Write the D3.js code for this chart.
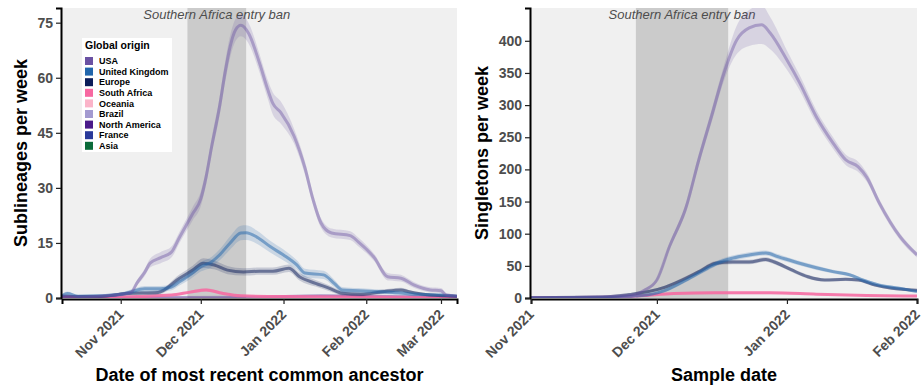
<!DOCTYPE html>
<html>
<head>
<meta charset="utf-8">
<script src="https://cdn.jsdelivr.net/npm/d3@7"></script>
<style>
  body { margin: 0; background: #fff; }
  text { font-family: "Liberation Sans", Arial, sans-serif; }
</style>
</head>
<body>
<div id="chart"></div>
<script>
// legend
const originNames = ['USA', 'United Kingdom', 'Europe', 'South Africa', 'Oceania', 'Brazil', 'North America', 'France', 'Asia']
const originColors = ['#6a51a3', '#2166ac', '#0b1d5a', '#f768a1', '#fbb4c9', '#a39ad0', '#4a1a8a', '#2a3a9a', '#0b6b3a']

const banStart = '2021-11-26'
const banEnd = '2021-12-18'

// sublineages per week by MRCA date: [date, mean, half width of ribbon]
const mrcaUSA = [
  ['2021-10-10', 0.5, 0.5], ['2021-10-17', 0.3, 0.3], ['2021-10-24', 0.5, 0.4], ['2021-11-01', 1.0, 0.5],
  ['2021-11-05', 1.6, 0.6], ['2021-11-07', 4, 0.8], ['2021-11-10', 7, 1], ['2021-11-12', 9.5, 1.2],
  ['2021-11-16', 11, 1.5], ['2021-11-20', 12.5, 1.5], ['2021-11-23', 16.5, 1.5], ['2021-11-28', 23, 1.8],
  ['2021-12-01', 27, 2], ['2021-12-03', 33, 2], ['2021-12-05', 41, 2.2], ['2021-12-08', 52, 2.5],
  ['2021-12-10', 61, 2.8], ['2021-12-12', 68.5, 3], ['2021-12-14', 73, 3], ['2021-12-16', 74.3, 3],
  ['2021-12-19', 72, 2.8], ['2021-12-23', 64, 2.5], ['2021-12-26', 57, 2.5], ['2021-12-28', 53, 3],
  ['2021-12-31', 50.5, 3], ['2022-01-05', 44, 2], ['2022-01-09', 35.5, 1.8], ['2022-01-12', 27, 1.5],
  ['2022-01-15', 20.5, 1.3], ['2022-01-19', 17.7, 1.2], ['2022-01-26', 17, 1.2], ['2022-01-29', 15.3, 1.2],
  ['2022-02-04', 11, 1], ['2022-02-09', 5.8, 1], ['2022-02-14', 5.4, 0.9], ['2022-02-19', 3.5, 0.8],
  ['2022-02-25', 2.2, 0.7], ['2022-03-01', 2, 0.7], ['2022-03-03', 0.8, 0.5], ['2022-03-07', 0.5, 0.4]
]
const mrcaUK = [
  ['2021-10-10', 0.6, 0.5], ['2021-10-12', 1.2, 0.6], ['2021-10-16', 0.5, 0.4], ['2021-10-24', 0.6, 0.4],
  ['2021-11-01', 1.0, 0.5], ['2021-11-04', 1.5, 0.6], ['2021-11-10', 2.5, 0.8], ['2021-11-16', 2.5, 0.8],
  ['2021-11-20', 3, 0.9], ['2021-11-23', 4.4, 1], ['2021-11-27', 6.3, 1.2], ['2021-12-01', 8.5, 1.3],
  ['2021-12-05', 9.8, 1.4], ['2021-12-08', 11.7, 1.5], ['2021-12-12', 15, 1.8], ['2021-12-16', 17.7, 2],
  ['2021-12-18', 17.8, 2], ['2021-12-22', 16.6, 1.8], ['2021-12-27', 14, 1.6], ['2022-01-01', 11.7, 1.5],
  ['2022-01-06', 9, 1.3], ['2022-01-09', 6.8, 1.2], ['2022-01-16', 6.3, 1.1], ['2022-01-20', 4, 1],
  ['2022-01-23', 2.2, 0.8], ['2022-01-29', 2, 0.7], ['2022-02-06', 1.7, 0.6], ['2022-02-13', 1.4, 0.6],
  ['2022-02-19', 1, 0.5], ['2022-03-01', 0.8, 0.4], ['2022-03-07', 0.5, 0.3]
]
const mrcaEurope = [
  ['2021-10-10', 0.5, 0.4], ['2021-10-24', 0.4, 0.3], ['2021-11-03', 1.2, 0.5], ['2021-11-15', 1.5, 0.6],
  ['2021-11-23', 5.4, 1], ['2021-11-28', 7.6, 1.2], ['2021-12-02', 9.5, 1.3], ['2021-12-06', 9, 1.2],
  ['2021-12-11', 7.6, 1.1], ['2021-12-17', 7.1, 1], ['2021-12-23', 7.3, 1], ['2021-12-28', 7.3, 1],
  ['2022-01-03', 8.1, 1], ['2022-01-07', 5.8, 1], ['2022-01-13', 4, 0.9], ['2022-01-18', 2.7, 0.8],
  ['2022-01-23', 1.3, 0.6], ['2022-01-30', 1, 0.5], ['2022-02-07', 1.7, 0.6], ['2022-02-14', 2.2, 0.6],
  ['2022-02-17', 1.7, 0.5], ['2022-02-25', 0.8, 0.4], ['2022-03-07', 0.5, 0.3]
]
const mrcaSouthAfrica = [
  ['2021-10-10', 0.3, 0.2], ['2021-11-01', 0.3, 0.2], ['2021-11-20', 0.8, 0.3], ['2021-11-27', 1.6, 0.4],
  ['2021-12-03', 2.2, 0.5], ['2021-12-09', 1.3, 0.4], ['2021-12-16', 0.6, 0.3], ['2022-01-01', 0.4, 0.2],
  ['2022-03-07', 0.2, 0.2]
]
const mrcaNorthAmerica = [
  ['2021-10-10', 0.1, 0.1], ['2021-12-20', 0.2, 0.1], ['2022-01-15', 0.6, 0.2], ['2022-02-01', 0.5, 0.2],
  ['2022-03-07', 0.2, 0.1]
]

// singletons per week by sample date: [date, mean, half width of ribbon]
const sampleUSA = [
  ['2021-11-01', 0.5, 0.5], ['2021-11-10', 0.8, 0.6], ['2021-11-17', 1.5, 0.8], ['2021-11-22', 3, 1],
  ['2021-11-26', 6, 1.5], ['2021-11-28', 12, 2], ['2021-12-01', 28, 3], ['2021-12-04', 80, 5],
  ['2021-12-08', 142, 7], ['2021-12-11', 215, 9], ['2021-12-14', 282, 10], ['2021-12-17', 350, 12],
  ['2021-12-20', 401, 22], ['2021-12-23', 420, 28], ['2021-12-26', 425, 30], ['2021-12-28', 412, 25],
  ['2022-01-01', 370, 15], ['2022-01-04', 335, 12], ['2022-01-08', 282, 10], ['2022-01-12', 241, 9],
  ['2022-01-15', 215, 8], ['2022-01-18', 204, 8], ['2022-01-20', 188, 7], ['2022-01-23', 148, 6],
  ['2022-01-28', 95, 5], ['2022-02-01', 67, 4]
]
const sampleUK = [
  ['2021-11-01', 0.5, 0.5], ['2021-11-20', 1, 0.8], ['2021-11-26', 3, 1.5], ['2021-11-29', 5, 2],
  ['2021-12-03', 12, 2.5], ['2021-12-08', 28, 3], ['2021-12-13', 46, 3.5], ['2021-12-16', 56, 4],
  ['2021-12-19', 62, 4], ['2021-12-23', 67, 4], ['2021-12-27', 70, 4], ['2021-12-30', 64, 4],
  ['2022-01-04', 54, 3.5], ['2022-01-08', 47, 3.5], ['2022-01-12', 41, 3], ['2022-01-16', 36, 3],
  ['2022-01-19', 28, 3], ['2022-01-23', 20, 2.5], ['2022-01-28', 15, 2.5], ['2022-02-01', 10, 2]
]
const sampleEurope = [
  ['2021-11-01', 0.5, 0.5], ['2021-11-18', 1.5, 0.8], ['2021-11-25', 6, 1.5], ['2021-11-29', 10, 2],
  ['2021-12-03', 17, 2.5], ['2021-12-07', 28, 3], ['2021-12-11', 41, 3], ['2021-12-15', 54, 3.5],
  ['2021-12-19', 56, 3.5], ['2021-12-23', 56, 3.5], ['2021-12-27', 60, 3.5], ['2021-12-29', 56, 3.5],
  ['2022-01-02', 44, 3], ['2022-01-06', 33, 3], ['2022-01-10', 28, 2.5], ['2022-01-15', 29, 2.5],
  ['2022-01-18', 28, 2.5], ['2022-01-22', 20, 2], ['2022-01-26', 15, 2], ['2022-02-01', 12, 2]
]
const sampleSouthAfrica = [
  ['2021-11-01', 0.5, 0.5], ['2021-11-20', 1, 0.8], ['2021-11-28', 4, 1.5], ['2021-12-05', 7, 2],
  ['2021-12-15', 8, 2], ['2021-12-28', 8, 2], ['2022-01-08', 6, 1.5], ['2022-01-20', 4, 1.2],
  ['2022-02-01', 3, 1]
]

const lineOpacity = { 'USA': 0.42, 'United Kingdom': 0.5, 'Europe': 0.5, 'South Africa': 0.85, 'North America': 0.4 }

const parse = d3.timeParse('%Y-%m-%d')
const W = 922, H = 387

const svg = d3.select('#chart').append('svg')
  .attr('width', W)
  .attr('height', H)

function drawPanel(p) {
  const x = d3.scaleTime().domain(p.xDomain.map(parse)).range([p.left, p.right])
  const y = d3.scaleLinear().domain(p.yDomain).range([p.bottom, p.top])
  const g = svg.append('g')

  // panel background
  g.append('rect')
    .attr('x', p.left).attr('y', p.top)
    .attr('width', p.right - p.left).attr('height', p.bottom - p.top)
    .attr('fill', '#f0f0f0')

  // entry ban window
  g.append('rect')
    .attr('x', x(parse(banStart))).attr('y', p.top)
    .attr('width', x(parse(banEnd)) - x(parse(banStart)))
    .attr('height', p.bottom - p.top)
    .attr('fill', '#cbcbcb')

  g.append('text')
    .attr('x', (x(parse(banStart)) + x(parse(banEnd))) / 2)
    .attr('y', p.top + 11)
    .attr('text-anchor', 'middle')
    .attr('font-size', 13)
    .attr('font-style', 'italic')
    .attr('fill', '#4d4d4d')
    .text('Southern Africa entry ban')

  const clip = 'clip' + p.id
  g.append('clipPath').attr('id', clip)
    .append('rect')
    .attr('x', p.left).attr('y', p.top)
    .attr('width', p.right - p.left).attr('height', p.bottom - p.top)

  const area = d3.area()
    .x(d => x(parse(d[0])))
    .y0(d => y(Math.max(0, d[1] - d[2])))
    .y1(d => y(d[1] + d[2]))
    .curve(d3.curveMonotoneX)
  const line = d3.line()
    .x(d => x(parse(d[0])))
    .y(d => y(d[1]))
    .curve(d3.curveMonotoneX)

  const lines = g.append('g').attr('clip-path', 'url(#' + clip + ')')
  p.series.forEach(s => {
    const c = originColors[originNames.indexOf(s.name)]
    lines.append('path')
      .datum(s.data)
      .attr('d', area)
      .attr('fill', c)
      .attr('fill-opacity', 0.18)
    lines.append('path')
      .datum(s.data)
      .attr('d', line)
      .attr('fill', 'none')
      .attr('stroke', c)
      .attr('stroke-opacity', lineOpacity[s.name])
      .attr('stroke-width', 3)
  })

  // y axis
  const yAxis = g.append('g')
    .attr('transform', 'translate(' + (p.left - 1) + ',0)')
    .call(d3.axisLeft(y).tickValues(p.yTicks).tickSize(5).tickPadding(3))
  yAxis.select('.domain').attr('stroke', '#000').attr('stroke-width', 2)
  yAxis.selectAll('.tick line').attr('stroke', '#222').attr('stroke-width', 1.2)
  yAxis.selectAll('.tick text')
    .attr('font-size', 14)
    .attr('font-weight', 'bold')
    .attr('fill', '#4d4d4d')
    .attr('font-family', '"Liberation Sans", Arial, sans-serif')

  // x axis
  const xAxis = g.append('g')
    .attr('transform', 'translate(0,' + (p.bottom + 1) + ')')
    .call(d3.axisBottom(x).tickValues(p.xTicks.map(parse)).tickSize(5).tickFormat(d3.timeFormat('%b %Y')))
  xAxis.select('.domain').attr('stroke', '#000').attr('stroke-width', 2)
  xAxis.selectAll('.tick line').attr('stroke', '#222').attr('stroke-width', 1.2)
  xAxis.selectAll('.tick text')
    .attr('font-size', 14)
    .attr('font-weight', 'bold')
    .attr('fill', '#4d4d4d')
    .attr('font-family', '"Liberation Sans", Arial, sans-serif')
    .attr('text-anchor', 'end')
    .attr('transform', 'translate(-3,10) rotate(-45)')
    .attr('dy', '0.35em')
    .attr('y', 4)

  // titles
  g.append('text')
    .attr('x', (p.left + p.right) / 2)
    .attr('y', 381)
    .attr('text-anchor', 'middle')
    .attr('font-size', 18)
    .attr('font-weight', 'bold')
    .text(p.xTitle)
  g.append('text')
    .attr('transform', 'translate(' + p.yTitleX + ',' + (p.top + p.bottom) / 2 + ') rotate(-90)')
    .attr('text-anchor', 'middle')
    .attr('font-size', 18)
    .attr('font-weight', 'bold')
    .text(p.yTitle)
}

drawPanel({
  id: 'a', left: 62, right: 457, top: 8, bottom: 298,
  xDomain: ['2021-10-10', '2022-03-07'], yDomain: [0, 79],
  xTicks: ['2021-11-01', '2021-12-01', '2022-01-01', '2022-02-01', '2022-03-01'],
  yTicks: [0, 15, 30, 45, 60, 75],
  xTitle: 'Date of most recent common ancestor', yTitle: 'Sublineages per week', yTitleX: 27,
  series: [
    { name: 'North America', data: mrcaNorthAmerica },
    { name: 'South Africa', data: mrcaSouthAfrica },
    { name: 'Europe', data: mrcaEurope },
    { name: 'United Kingdom', data: mrcaUK },
    { name: 'USA', data: mrcaUSA }
  ]
})

drawPanel({
  id: 'b', left: 531, right: 917, top: 8, bottom: 298,
  xDomain: ['2021-11-01', '2022-02-01'], yDomain: [0, 451],
  xTicks: ['2021-11-01', '2021-12-01', '2022-01-01', '2022-02-01'],
  yTicks: [0, 50, 100, 150, 200, 250, 300, 350, 400],
  xTitle: 'Sample date', yTitle: 'Singletons per week', yTitleX: 488,
  series: [
    { name: 'South Africa', data: sampleSouthAfrica },
    { name: 'Europe', data: sampleEurope },
    { name: 'United Kingdom', data: sampleUK },
    { name: 'USA', data: sampleUSA }
  ]
})

// legend
const legend = svg.append('g').attr('transform', 'translate(82,38)')
legend.append('rect')
  .attr('width', 90).attr('height', 114)
  .attr('fill', '#fff')
legend.append('text')
  .attr('x', 3).attr('y', 11)
  .attr('font-size', 10.5)
  .attr('font-weight', 'bold')
  .text('Global origin')
const item = legend.selectAll('g.item')
  .data(originNames)
  .enter()
  .append('g')
  .attr('class', 'item')
  .attr('transform', (d, i) => 'translate(3,' + (23 + i * 10.6) + ')')
item.append('rect')
  .attr('x', 0).attr('y', -4)
  .attr('width', 8).attr('height', 8)
  .attr('fill', (d, i) => originColors[i])
item.append('text')
  .attr('x', 14).attr('y', 3.2)
  .attr('font-size', 9)
  .attr('font-weight', 'bold')
  .text(d => d)
</script>
</body>
</html>
